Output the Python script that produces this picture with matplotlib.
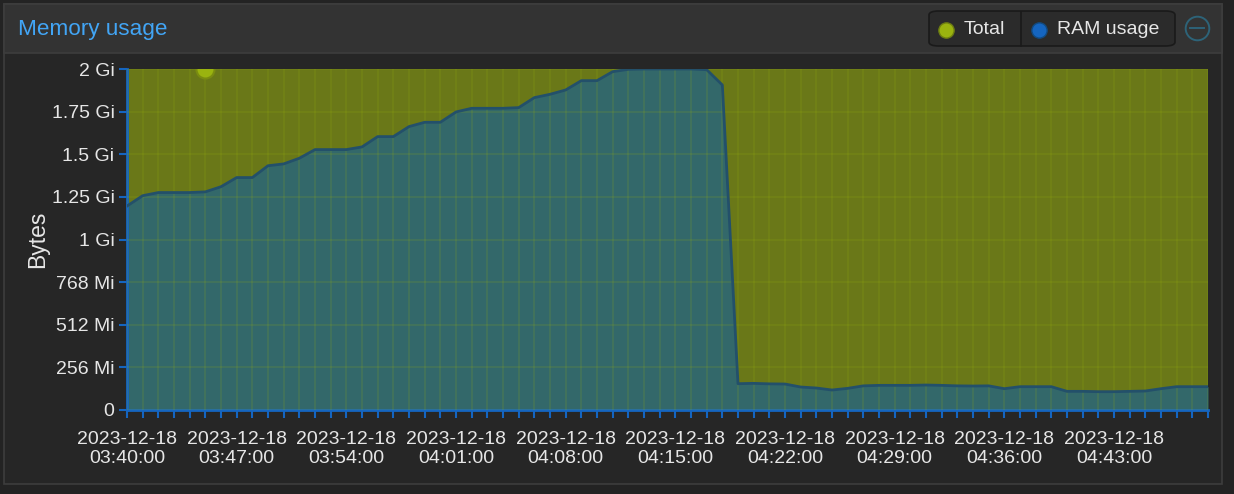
import matplotlib.pyplot as plt
import matplotlib.dates as mdates
from matplotlib.patches import Rectangle, FancyBboxPatch
from matplotlib.ticker import FixedLocator, FixedFormatter
import pandas as pd

plt.rcParams['font.family'] = ['Liberation Sans', 'DejaVu Sans']

# RAM usage, one sample per minute from 03:40 (MiB)
ram_mib = [
    1225, 1287, 1306, 1306, 1306, 1310, 1341, 1396, 1396, 1467,
    1478, 1512, 1564, 1564, 1564, 1580, 1642, 1642, 1702, 1728,
    1728, 1790, 1812, 1812, 1812, 1816, 1876, 1896, 1922, 1978,
    1978, 2032, 2046, 2048, 2048, 2048, 2048, 2044, 1952, 158,
    160, 157, 156, 138, 132, 120, 130, 145, 148, 148,
    148, 150, 148, 145, 144, 145, 128, 140, 140, 140,
    112, 112, 110, 110, 112, 114, 128, 140, 140, 140,
]
total_mib = [2048] * len(ram_mib)
times = pd.date_range("2023-12-18 03:40", periods=len(ram_mib), freq="min")

ytick_vals = [0, 256, 512, 768, 1024, 1280, 1536, 1792, 2048]
ytick_labels = ["0", "256 Mi", "512 Mi", "768 Mi", "1 Gi", "1.25 Gi", "1.5 Gi", "1.75 Gi", "2 Gi"]
hover_time = pd.Timestamp("2023-12-18 03:45")

W, H = 1234, 494
fig = plt.figure(figsize=(W / 100, H / 100), dpi=100)
fig.patch.set_facecolor('#232323')

def fx(px):
    return px / W

def fy(py):
    return 1 - py / H

# panel body and header
fig.patches.append(Rectangle((fx(4), fy(484)), fx(1218), 480 / H, transform=fig.transFigure,
                             facecolor='#262626', edgecolor='#3d3d3d', lw=1.2, zorder=-2))
fig.patches.append(Rectangle((fx(4), fy(53)), fx(1218), 49 / H, transform=fig.transFigure,
                             facecolor='#333333', edgecolor='#3d3d3d', lw=1.2, zorder=-1))
fig.text(fx(18), fy(29), "Memory usage", color='#42a5f5', fontsize=16.2, va='center', ha='left')

# legend box
fig.patches.append(FancyBboxPatch((fx(929), fy(46)), fx(246), 35 / H, transform=fig.transFigure,
                                  boxstyle="round,pad=0,rounding_size=0.008",
                                  facecolor='#2b2b2b', edgecolor='#1a1a1a', lw=1.2, zorder=-1))
fig.add_artist(plt.Line2D([fx(1021), fx(1021)], [fy(12), fy(46)], transform=fig.transFigure,
                          color='#1a1a1a', lw=1.2))
fig.add_artist(plt.Line2D([fx(946)], [fy(30)], transform=fig.transFigure, marker='o', ms=11,
                          mfc='#9ab30f', mec='#6d7d12', mew=1))
fig.add_artist(plt.Line2D([fx(1039)], [fy(30)], transform=fig.transFigure, marker='o', ms=11,
                          mfc='#1565c0', mec='#124a80', mew=1))
fig.text(fx(964), fy(29), "Total", color='#e6e6e6', fontsize=14, va='center', ha='left')
fig.text(fx(1057), fy(29), "RAM usage", color='#e6e6e6', fontsize=14, va='center', ha='left')
fig.add_artist(plt.Line2D([fx(1197)], [fy(28)], transform=fig.transFigure, marker='o', ms=17,
                          mfc='none', mec='#2d6378', mew=1.4))
fig.add_artist(plt.Line2D([fx(1190), fx(1204)], [fy(28), fy(28)], transform=fig.transFigure,
                          color='#2d6378', lw=1.4))

ax = fig.add_axes([fx(127), fy(410), fx(1208 - 127), (410 - 69) / H])
ax.set_zorder(2)
ax.set_facecolor('#262626')

ax.fill_between(times, 0, total_mib, color='#6a7818', lw=0, zorder=1)
ax.fill_between(times, 0, ram_mib, color='#33686a', lw=0, zorder=2)
ax.plot(times, ram_mib, color='#23506a', lw=2, zorder=3)

ax.set_xlim(times[0], times[-1])
ax.set_ylim(0, 2048)

ax.plot([hover_time], [2048], marker='o', ms=13, mfc='#9ab30f', mec='#7a8c10', mew=1.5,
        zorder=5, clip_on=True)

ax.yaxis.set_major_locator(FixedLocator(ytick_vals))
ax.yaxis.set_major_formatter(FixedFormatter(ytick_labels))
ax.xaxis.set_major_locator(FixedLocator([mdates.date2num(t) for t in times[::7]]))
ax.xaxis.set_minor_locator(FixedLocator([mdates.date2num(t) for t in times]))
ax.xaxis.set_major_formatter(mdates.DateFormatter('%Y-%m-%d\n%H:%M:%S'))

ax.grid(True, which='both', axis='x', color='#9ab30f', alpha=0.16, lw=1.3, zorder=4)
ax.grid(True, which='major', axis='y', color='#9ab30f', alpha=0.16, lw=1.3, zorder=4)
ax.set_axisbelow(False)

ax.tick_params(axis='y', colors='#1565c0', labelcolor='#e6e6e6', labelsize=14,
               length=6, width=1.5, pad=3)
ax.tick_params(axis='x', which='both', colors='#1565c0', labelcolor='#e6e6e6', labelsize=14,
               length=6, width=1.5, pad=9)
for lbl in ax.get_xticklabels():
    lbl.set_linespacing(1.15)

for side in ['top', 'right']:
    ax.spines[side].set_visible(False)
ax.spines['left'].set_color('#1565c0')
ax.spines['bottom'].set_color('#1565c0')
ax.spines['left'].set_linewidth(2)
ax.spines['bottom'].set_linewidth(2)

ax.set_ylabel("Bytes", color='#e6e6e6', fontsize=16.5, labelpad=2)

fig.savefig('out.png', dpi=100, facecolor=fig.get_facecolor())
